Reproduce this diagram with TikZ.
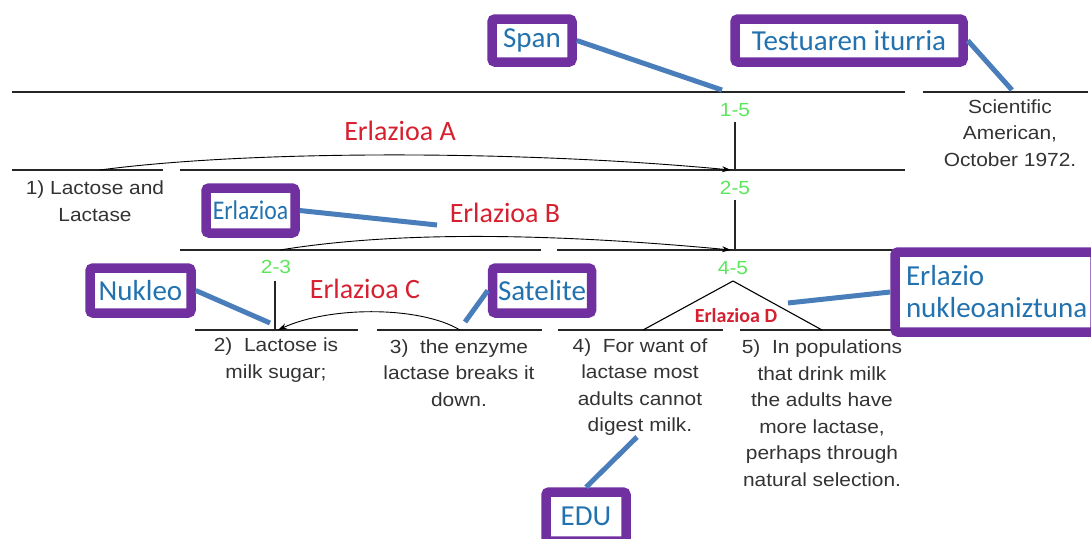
\documentclass[tikz,border=0pt]{standalone}
\usepackage{fontspec}
\setmainfont{Liberation Sans}
\newfontfamily\arialw[FakeStretch=1.1]{Liberation Sans}
\newfontfamily\calib{Carlito}
\newfontfamily\calibn[FakeStretch=0.88]{Carlito}
\usetikzlibrary{arrows.meta}
\definecolor{boxpurple}{HTML}{7030A0}
\definecolor{boxblue}{HTML}{2272B0}
\definecolor{connblue}{HTML}{4A7EBB}
\definecolor{relred}{HTML}{D62030}
\definecolor{spangreen}{HTML}{5CE65C}
\definecolor{txtgray}{HTML}{333333}
\tikzset{
  lbox/.style={draw=boxpurple, line width=9.5pt, rounded corners=3pt, fill=white,
    text=boxblue, font=\calib\fontsize{29}{32}\selectfont, inner sep=0pt},
  conn/.style={draw=connblue, line width=5pt},
  hline/.style={draw=black!85, line width=1.3pt},
  vline/.style={draw=black!85, line width=1.2pt},
  rel/.style={text=relred, font=\calib\fontsize{28}{32}\selectfont, inner sep=0pt},
  spanlab/.style={text=spangreen, font=\arialw\fontsize{19}{22}\selectfont, inner sep=0pt},
  edu/.style={text=txtgray, font=\arialw\fontsize{19}{26.5}\selectfont, align=center, inner sep=0pt},
  arc/.style={draw=black, line width=0.9pt},
  arctip/.style={arc, -{Stealth[length=9pt,width=6pt]}}
}
\begin{document}
\begin{tikzpicture}[x=1pt,y=-1pt]
\useasboundingbox (0,0) rectangle (1091,538);
% horizontal span lines
\draw[hline] (12,92) -- (905,92);
\draw[hline] (923,92) -- (1088,92);
\draw[hline] (12,170) -- (163,170);
\draw[hline] (180,170) -- (905,170);
\draw[hline] (180,250) -- (541,250);
\draw[hline] (557,250) -- (893,250);
\draw[hline] (195,330) -- (358,330);
\draw[hline] (377,330) -- (542,330);
\draw[hline] (558,330) -- (723,330);
\draw[hline] (740,330) -- (893,330);
% span labels and verticals
\node[spanlab] (s15) at (735,110) {1-5};
\node[spanlab] (s25) at (735,188) {2-5};
\node[spanlab] (s45) at (733,268) {4-5};
\node[spanlab] (s23) at (276,267) {2-3};
\coordinate (v15b) at (735,170);
\coordinate (v25b) at (735,250);
\coordinate (v23b) at (275,330);
\draw[vline] (735,122) -- (v15b);
\draw[vline] (735,200) -- (v25b);
\draw[vline] (275,281) -- (v23b);
% multinuclear triangle
\coordinate (apex) at (733,281);
\coordinate (footL) at (643,330);
\coordinate (footR) at (822,330);
\draw[arc, line width=1.1pt] (footL) -- (apex) -- (footR);
% relation arcs
\coordinate (aS) at (100,170);
\coordinate (aE) at (731,170);
\draw[arctip] (aS) .. controls (250,150) and (520,150) .. (aE);
\coordinate (bS) at (280,250);
\coordinate (bE) at (731,250);
\draw[arctip] (bS) .. controls (390,232) and (540,232) .. (bE);
\coordinate (cS) at (460,330);
\coordinate (cE) at (278,330);
\draw[arctip] (cS) .. controls (420,306) and (330,306) .. (cE);
% relation labels
\node[rel] (rA) at (400,131) {Erlazioa A};
\node[rel] (rB) at (505,213) {Erlazioa B};
\node[rel] (rC) at (365,289) {Erlazioa C};
\node[rel, font=\calib\bfseries\fontsize{20}{24}\selectfont] (rD) at (736,316) {Erlazioa D};
% text segments
\node[edu] (t1) at (95,201) {1) Lactose and\\Lactase};
\node[edu] (src) at (1010,133) {Scientific\\American,\\October 1972.};
\node[edu] (t2) at (276,360) {2)\ \ Lactose is\\milk sugar;};
\node[edu] (t3) at (459,373) {3)\ \ the enzyme\\lactase breaks it\\down.};
\node[edu] (t4) at (640,387) {4)\ \ For want of\\lactase most\\adults cannot\\digest milk.};
\node[edu] (t5) at (822,413) {5)\ \ In populations\\that drink milk\\the adults have\\more lactase,\\perhaps through\\natural selection.};
% callout boxes
\node[lbox, minimum width=80pt, minimum height=43pt] (span) at (532,40.5) {Span};
\node[lbox, minimum width=228pt, minimum height=43pt] (iturria) at (849,40.5) {Testuaren iturria};
\node[lbox, minimum width=89pt, minimum height=45pt, font=\calibn\fontsize{27}{30}\selectfont] (erl) at (250.5,210.5) {Erlazioa};
\node[lbox, minimum width=101pt, minimum height=45pt] (nuk) at (140.5,290.5) {Nukleo};
\node[lbox, minimum width=99pt, minimum height=45pt] (sat) at (542,290.5) {Satelite};
\node[lbox, minimum width=200pt, minimum height=80pt, align=left, text width=178pt,
      font=\calib\fontsize{29}{32}\selectfont] (multi) at (995,292) {Erlazio\\nukleoaniztuna};
\node[lbox, minimum width=80pt, minimum height=49pt] (edubox) at (586,516.5) {EDU};
% connector end points
\coordinate (pSpan) at (722,90);
\coordinate (pIt) at (1012,90);
\coordinate (pErl) at (437,225);
\coordinate (pNuk) at (270,323);
\coordinate (pSat) at (465,322);
\coordinate (pMulti) at (788,303);
\coordinate (pEdu) at (637,437);
% callout connectors
\draw[conn] (span.east) -- (pSpan);
\draw[conn] (iturria.east) -- (pIt);
\draw[conn] (erl.east) -- (pErl);
\draw[conn] (nuk.east) -- (pNuk);
\draw[conn] (sat.west) -- (pSat);
\draw[conn] (multi.west) -- (pMulti);
\draw[conn] (edubox.north) -- (pEdu);
\end{tikzpicture}
\end{document}
